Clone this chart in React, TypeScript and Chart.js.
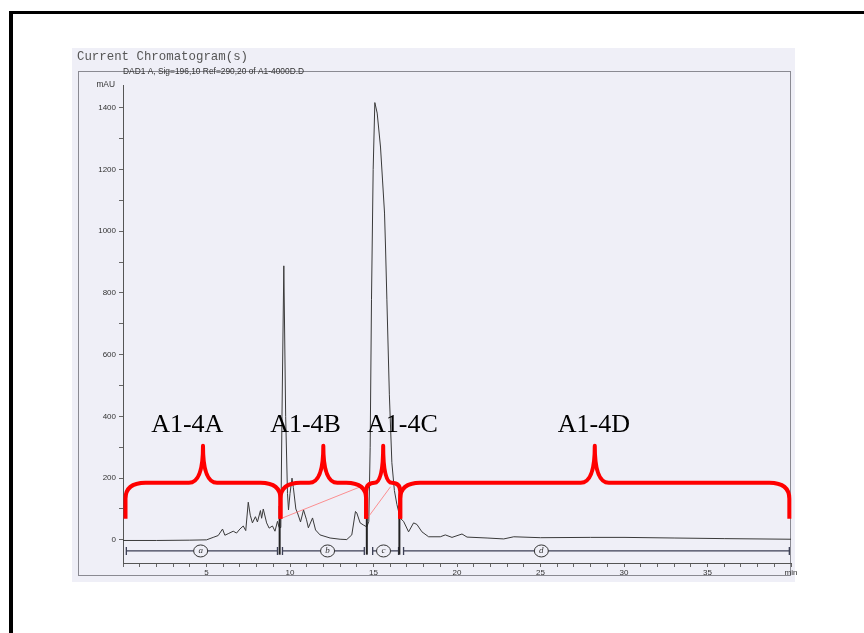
import React, { useEffect, useRef } from "react";
import { Chart, registerables } from "chart.js";

Chart.register(...registerables);

// ---- Chromatogram trace (retention time in min, absorbance in mAU) ----
const timeMin = [
  0, 2, 4, 5.0, 5.4, 5.7, 5.96, 6.1, 6.3, 6.6, 6.8, 7.0, 7.2, 7.35, 7.5, 7.62, 7.75, 7.93, 8.05, 8.23, 8.3, 8.4,
  8.6, 8.75, 8.95, 9.1, 9.25, 9.35, 9.45, 9.52, 9.63, 9.74, 9.85, 9.91, 10.0, 10.12, 10.2, 10.35, 10.45, 10.63,
  10.81, 10.99, 11.1, 11.35, 11.53, 11.8, 12.4, 13.0, 13.4, 13.7, 13.92, 14.0, 14.2, 14.4, 14.6, 14.72, 14.8,
  14.88, 14.98, 15.08, 15.22, 15.42, 15.54, 15.66, 15.72, 15.8, 15.95, 16.1, 16.25, 16.4, 16.6, 16.8, 17.1,
  17.4, 17.6, 17.9, 18.3, 19.0, 19.3, 19.7, 20.3, 20.6, 21.8, 22.8, 23.4, 25.0, 28.0, 30.0, 33.0, 36.0, 40.0,
];
const absorbance = [
  -2, -2, -1, 0, 8, 14, 35, 15, 20, 28, 22, 35, 45, 30, 122, 80, 55, 75, 58, 95, 70, 100,
  55, 38, 45, 28, 60, 40, 40, 400, 888, 400, 150, 97, 150, 200, 170, 100, 87, 58,
  97, 65, 39, 71, 32, 16, 6, 2, 1, 16, 92, 87, 55, 48, 42, 60, 300,
  778, 1200, 1417, 1383, 1273, 1166, 1059, 949, 780, 470, 250, 160, 115, 70, 60, 26,
  55, 50, 26, 10, 10, 16, 8, 19, 9, 6, 3, 10, 7, 8, 8, 6, 4, 2,
];

// ---- Axis ticks ----
const xTickValues = [
  0, 1, 2, 3, 4, 5, 6, 7, 8, 9, 10, 11, 12, 13, 14, 15, 16, 17, 18, 19, 20,
  21, 22, 23, 24, 25, 26, 27, 28, 29, 30, 31, 32, 33, 34, 35, 36, 37, 38, 39, 40,
];
const xTickLabels = [5, 10, 15, 20, 25, 30, 35];
const yTickValues = [0, 100, 200, 300, 400, 500, 600, 700, 800, 900, 1000, 1100, 1200, 1300, 1400];
const yTickLabels = [0, 200, 400, 600, 800, 1000, 1200, 1400];

// ---- Fraction annotations (min) ----
const fractionNames = ["A1-4A", "A1-4B", "A1-4C", "A1-4D"];
const fractionStart = [0.15, 9.43, 14.56, 16.6];
const fractionEnd = [9.43, 14.56, 16.6, 39.9];
const fractionLabelAt = [3.85, 10.93, 16.73, 28.2];

// ---- Integration events (min) ----
const eventStart = [0.2, 9.55, 14.95, 16.8];
const eventEnd = [9.25, 14.45, 16.5, 39.9];
const eventMarks = ["a", "b", "c", "d"];
const eventMarkAt = [4.65, 12.25, 15.6, 25.05];
const dropLineAt = [9.38, 14.6, 16.55];

// ---- Thin guide lines ----
const guideFromT = [9.55, 14.7];
const guideFromV = [71, 75];
const guideToT = [14.22, 16.02];
const guideToV = [172, 172];

const BRACE_END = 68;
const BRACE_BAR = 185;
const BRACE_TIP = 305;
const LABEL_LEVEL = 373;
const EVENT_LEVEL = -36;

const pagePlugin = {
  id: "page",
  beforeDraw(chart: any) {
    const ctx = chart.ctx;
    ctx.save();
    ctx.fillStyle = "#ffffff";
    ctx.fillRect(0, 0, chart.width, chart.height);
    ctx.fillStyle = "#efeff7";
    ctx.fillRect(72, 48, 723, 534);
    ctx.strokeStyle = "#8a8a92";
    ctx.lineWidth = 1;
    ctx.strokeRect(78.5, 71.5, 712, 504);
    ctx.fillStyle = "#000";
    ctx.fillRect(9, 11, chart.width, 3);
    ctx.fillRect(9, 11, 4, chart.height);
    ctx.restore();
  },
  afterDraw(chart: any) {
    const ctx = chart.ctx;
    ctx.save();
    ctx.fillStyle = "#555";
    ctx.font = "12.4px 'Liberation Mono', 'DejaVu Sans Mono', monospace";
    ctx.textBaseline = "middle";
    ctx.textAlign = "left";
    ctx.fillText("Current Chromatogram(s)", 77, 57);
    ctx.fillStyle = "#333";
    ctx.font = "8.4px 'Liberation Sans', Arial, sans-serif";
    ctx.fillText("DAD1 A, Sig=196,10 Ref=290,20 of A1-4000D.D", 123, 72);
    ctx.textAlign = "right";
    ctx.fillText("mAU", 115, 85);
    ctx.restore();
  },
};

const annotationPlugin = {
  id: "fractions",
  afterDatasetsDraw(chart: any) {
    const ctx = chart.ctx;
    const xs = chart.scales.x;
    const ys = chart.scales.y;
    const px = (t: number) => xs.getPixelForValue(t);
    const py = (v: number) => ys.getPixelForValue(v);
    ctx.save();

    // integration event line
    const ey = py(EVENT_LEVEL);
    for (let i = 0; i < eventStart.length; i++) {
      const a = px(eventStart[i]);
      const b = px(eventEnd[i]);
      ctx.strokeStyle = "#3c3f55";
      ctx.lineWidth = 1.3;
      ctx.beginPath();
      ctx.moveTo(a, ey);
      ctx.lineTo(b, ey);
      ctx.moveTo(a, ey - 4);
      ctx.lineTo(a, ey + 4);
      ctx.moveTo(b, ey - 4);
      ctx.lineTo(b, ey + 4);
      ctx.stroke();
      const cx = px(eventMarkAt[i]);
      ctx.fillStyle = "#efeff7";
      ctx.beginPath();
      ctx.ellipse(cx, ey, 7, 6, 0, 0, Math.PI * 2);
      ctx.fill();
      ctx.strokeStyle = "#333";
      ctx.lineWidth = 1;
      ctx.stroke();
      ctx.fillStyle = "#333";
      ctx.font = "italic 9px 'Liberation Serif', serif";
      ctx.textAlign = "center";
      ctx.textBaseline = "middle";
      ctx.fillText(eventMarks[i], cx, ey);
    }

    // drop lines at cut points
    ctx.strokeStyle = "#222";
    ctx.lineWidth = 2;
    for (const t of dropLineAt) {
      ctx.beginPath();
      ctx.moveTo(px(t), py(110));
      ctx.lineTo(px(t), py(-48));
      ctx.stroke();
    }

    // thin guide lines
    ctx.strokeStyle = "rgba(255,110,110,0.75)";
    ctx.lineWidth = 1;
    for (let i = 0; i < guideFromT.length; i++) {
      ctx.beginPath();
      ctx.moveTo(px(guideFromT[i]), py(guideFromV[i]));
      ctx.lineTo(px(guideToT[i]), py(guideToV[i]));
      ctx.stroke();
    }

    // braces
    ctx.strokeStyle = "#ff0000";
    ctx.lineWidth = 4;
    ctx.lineJoin = "round";
    ctx.lineCap = "butt";
    const yb = py(BRACE_END);
    const yh = py(BRACE_BAR);
    const yt = py(BRACE_TIP);
    for (let i = 0; i < fractionStart.length; i++) {
      const x0 = px(fractionStart[i]);
      const x1 = px(fractionEnd[i]);
      const xc = (x0 + x1) / 2;
      const w = x1 - x0;
      const r = Math.min(20, w / 4);
      const r2 = Math.min(14, w / 4);
      ctx.beginPath();
      ctx.moveTo(x0, yb);
      ctx.lineTo(x0, yh + Math.min(16, r));
      ctx.quadraticCurveTo(x0, yh, x0 + r, yh);
      ctx.lineTo(xc - r2, yh);
      ctx.quadraticCurveTo(xc, yh, xc, yt);
      ctx.quadraticCurveTo(xc, yh, xc + r2, yh);
      ctx.lineTo(x1 - r, yh);
      ctx.quadraticCurveTo(x1, yh, x1, yh + Math.min(16, r));
      ctx.lineTo(x1, yb);
      ctx.stroke();
    }

    // labels
    ctx.fillStyle = "#000";
    ctx.font = "26px 'Liberation Serif', 'Times New Roman', serif";
    ctx.textAlign = "center";
    ctx.textBaseline = "middle";
    for (let i = 0; i < fractionNames.length; i++) {
      ctx.fillText(fractionNames[i], px(fractionLabelAt[i]), py(LABEL_LEVEL));
    }
    ctx.restore();
  },
};

export default function App() {
  const ref = useRef<HTMLCanvasElement>(null);
  useEffect(() => {
    if (!ref.current) return;
    const tickFont = { family: "'Liberation Sans', Arial, sans-serif", size: 8 };
    const chart = new Chart(ref.current, {
      type: "line",
      data: {
        datasets: [
          {
            label: "DAD1 A",
            data: timeMin.map((t, i) => ({ x: t, y: absorbance[i] })),
            borderColor: "#3a3a3a",
            borderWidth: 1,
            pointRadius: 0,
            tension: 0,
            fill: false,
          },
        ],
      },
      options: {
        responsive: false,
        animation: false,
        devicePixelRatio: 1,
        layout: { padding: { left: 72, right: 73, top: 85, bottom: 51 } },
        plugins: { legend: { display: false }, tooltip: { enabled: false } },
        scales: {
          x: {
            type: "linear",
            min: 0,
            max: 40,
            afterBuildTicks: (axis: any) => {
              axis.ticks = xTickValues.map((v) => ({ value: v }));
            },
            afterFit: (axis: any) => {
              axis.height = 19;
            },
            ticks: {
              autoSkip: false,
              maxRotation: 0,
              padding: 1,
              color: "#333",
              font: tickFont,
              callback: (v: any) => (xTickLabels.includes(v) ? String(v) : v === 40 ? "min" : ""),
            },
            grid: { drawOnChartArea: false, tickLength: 4, color: "#666" },
            border: { color: "#555", width: 1 },
          },
          y: {
            type: "linear",
            min: -75,
            max: 1474,
            afterBuildTicks: (axis: any) => {
              axis.ticks = yTickValues.map((v) => ({ value: v }));
            },
            afterFit: (axis: any) => {
              axis.width = 51;
            },
            ticks: {
              autoSkip: false,
              padding: 3,
              color: "#333",
              font: tickFont,
              callback: (v: any) => (yTickLabels.includes(v) ? String(v) : ""),
            },
            grid: { drawOnChartArea: false, tickLength: 4, color: "#666" },
            border: { color: "#555", width: 1 },
          },
        },
      },
      plugins: [pagePlugin, annotationPlugin],
    } as any);
    return () => chart.destroy();
  }, []);
  return (
    <div style={{ position: "fixed", left: 0, top: 0, width: 864, height: 633, background: "#fff" }}>
      <canvas ref={ref} width={864} height={633} style={{ display: "block", width: 864, height: 633 }} />
    </div>
  );
}
